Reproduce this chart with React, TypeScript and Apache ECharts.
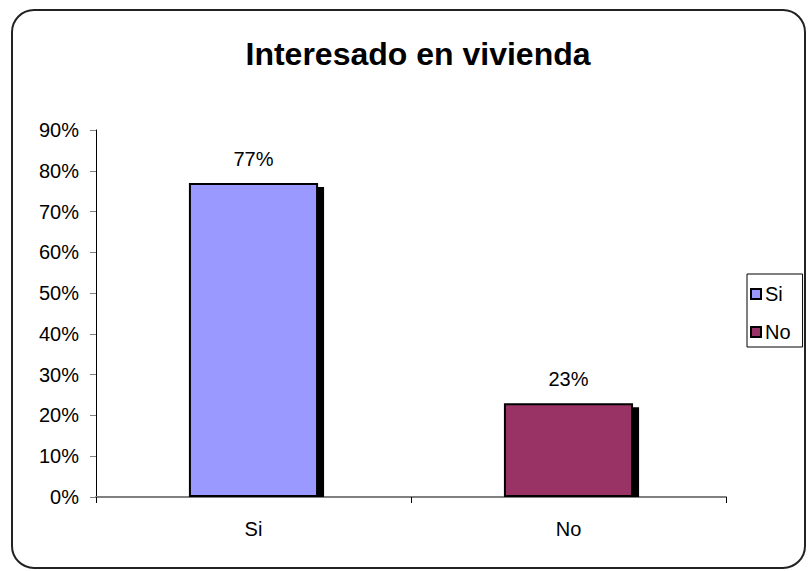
import React, { useEffect, useRef } from "react";
import * as echarts from "echarts";

const title = "Interesado en vivienda";
const categories = ["Si", "No"];
const seriesNames = ["Si", "No"];
const values = [77, 23];
const colors = ["#9999FF", "#993366"];
const yTicks = { min: 0, max: 90, interval: 10 };

export default function App() {
  const ref = useRef<HTMLDivElement>(null);
  useEffect(() => {
    if (!ref.current) return;
    const chart = echarts.init(ref.current, null, { renderer: "svg" });
    const font = "'Liberation Sans', Arial, sans-serif";
    const barSeries = seriesNames.map((name, i) => ({
      name,
      type: "bar",
      barWidth: "41%",
      barGap: "-100%",
      z: 3,
      data: categories.map((_, j) => (j === i ? values[i] : null)),
      itemStyle: { color: colors[i], borderColor: "#000", borderWidth: 2 },
      label: {
        show: true,
        position: "top",
        distance: 14,
        formatter: "{c}%",
        color: "#000",
        fontSize: 20,
        fontFamily: font,
      },
    }));
    chart.setOption({
      animation: false,
      backgroundColor: "#fff",
      title: {
        text: title,
        left: 413,
        textAlign: "center",
        top: 33,
        textStyle: { fontSize: 32, fontWeight: "bold", color: "#000", fontFamily: font },
      },
      graphic: [
        {
          type: "rect",
          shape: { x: 12, y: 10, width: 793, height: 558, r: 22 },
          style: { fill: "none", stroke: "#222", lineWidth: 2 },
          z: 10,
        },
      ],
      legend: {
        orient: "vertical",
        left: 747,
        top: 274,
        data: seriesNames,
        borderColor: "#000",
        borderWidth: 1,
        backgroundColor: "#fff",
        padding: [10, 12, 5, 3],
        itemWidth: 10,
        itemHeight: 10,
        itemGap: 18,
        icon: "rect",
        textStyle: { fontSize: 20, color: "#000", fontFamily: font, padding: [0, 0, 0, -1] },
      },
      grid: { left: 96, right: 82, top: 130, bottom: 74 },
      xAxis: {
        type: "category",
        data: categories,
        axisLine: { lineStyle: { color: "#808080", width: 2 } },
        axisTick: { show: true, length: 6, lineStyle: { color: "#000" } },
        axisLabel: { margin: 22, fontSize: 20, color: "#000", fontFamily: font },
      },
      yAxis: {
        type: "value",
        min: yTicks.min,
        max: yTicks.max,
        interval: yTicks.interval,
        splitLine: { show: false },
        axisLine: { show: true, lineStyle: { color: "#000", width: 1 } },
        axisTick: { show: true, length: 6, lineStyle: { color: "#808080" } },
        axisLabel: {
          formatter: "{value}%",
          margin: 17,
          fontSize: 20,
          color: "#000",
          fontFamily: font,
        },
      },
      series: [
        {
          type: "custom",
          name: "shadow",
          z: 1,
          silent: true,
          data: values.map((v, i) => [i, v]),
          renderItem: (params: any, api: any) => {
            const top = api.coord([api.value(0), api.value(1)]);
            const base = api.coord([api.value(0), 0]);
            const w = api.size([1, 0])[0] * 0.41;
            return {
              type: "rect",
              shape: { x: top[0] - w / 2 + 6, y: top[1] + 4, width: w, height: base[1] - top[1] - 4 },
              style: { fill: "#000" },
            };
          },
        },
        ...barSeries,
      ],
    });
    return () => chart.dispose();
  }, []);
  return (
    <div
      ref={ref}
      style={{ position: "fixed", left: 0, top: 0, width: 808, height: 571 }}
    />
  );
}
